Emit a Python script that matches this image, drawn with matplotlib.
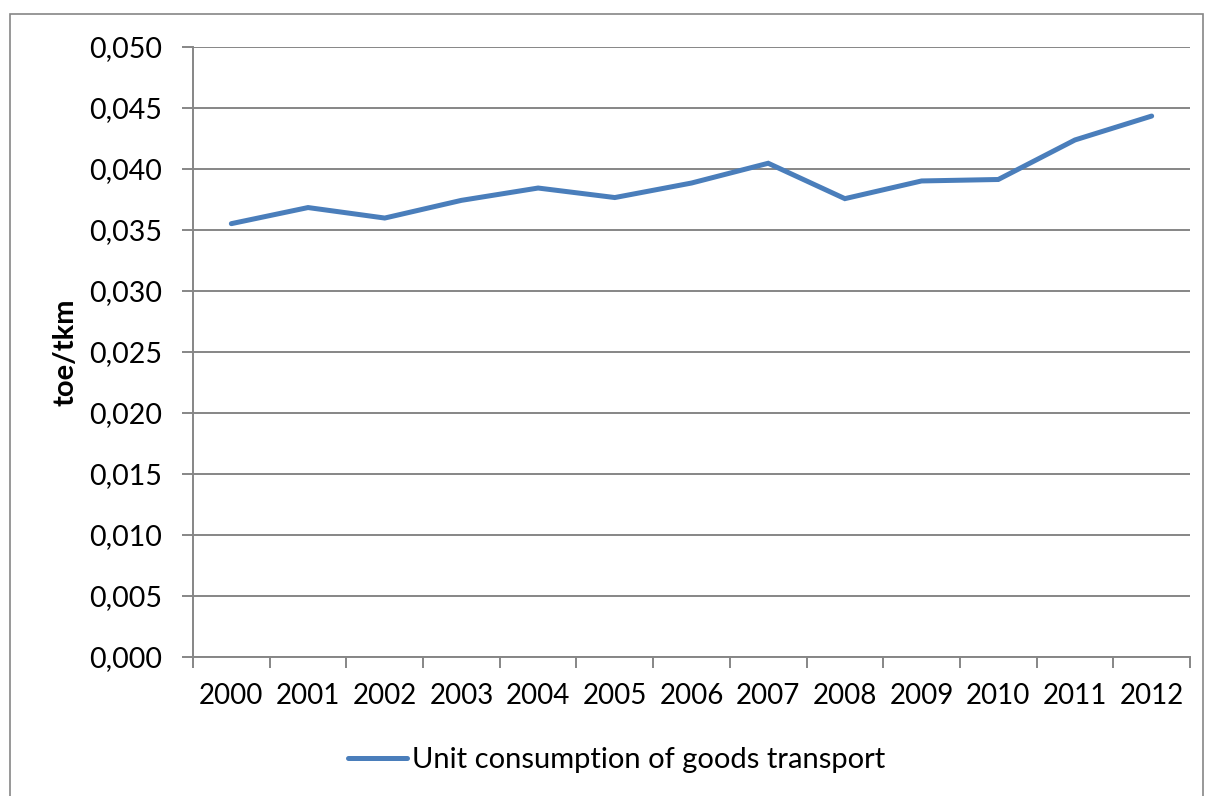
import matplotlib
matplotlib.use("Agg")
import matplotlib.pyplot as plt
from matplotlib.patches import Rectangle
from matplotlib.ticker import FixedLocator, FuncFormatter
import numpy as np

years = ["2000", "2001", "2002", "2003", "2004", "2005", "2006",
         "2007", "2008", "2009", "2010", "2011", "2012"]
unit_consumption = [0.03552, 0.03684, 0.03598, 0.03743, 0.03844, 0.03766,
                    0.03885, 0.04047, 0.03757, 0.03902, 0.03914, 0.04238,
                    0.04434]
series_label = "Unit consumption of goods transport"
y_label = "toe/tkm"

plt.rcParams['font.family'] = ['Lato', 'DejaVu Sans']

fig = plt.figure(figsize=(12.06, 7.96), dpi=100)
fig.patch.set_facecolor("white")

# chart frame
fig.patches.append(Rectangle((10 / 1206, -0.05), 1193 / 1206, 1 - 14 / 796 + 0.05,
                             transform=fig.transFigure, fill=False,
                             edgecolor="#868686", linewidth=1.2))

ax = fig.add_axes([193 / 1206, 1 - 657 / 796, (1190 - 193) / 1206, (657 - 47) / 796])

grid_col = "#868686"
x = np.arange(len(years))
line, = ax.plot(x, unit_consumption, color="#4A7EBB", linewidth=3.6,
                solid_capstyle="round", solid_joinstyle="miter",
                label=series_label, zorder=3)

ax.set_xlim(-0.5, len(years) - 0.5)
ax.set_ylim(0, 0.050)
ax.set_yticks(np.arange(0, 0.0501, 0.005))
ax.yaxis.set_major_formatter(FuncFormatter(lambda v, p: f"{v:.3f}".replace(".", ",")))
ax.yaxis.grid(True, color=grid_col, linewidth=1.4)
ax.set_axisbelow(True)

ax.set_xticks(x)
ax.set_xticklabels(years)
ax.xaxis.set_minor_locator(FixedLocator(np.arange(-0.5, len(years), 1.0)))
ax.tick_params(axis="x", which="major", length=0, pad=19, labelsize=20)
ax.tick_params(axis="x", which="minor", length=8, width=1.4, color=grid_col)
ax.tick_params(axis="y", length=8, width=1.4, color=grid_col, pad=14, labelsize=20.5)

for s in ("top", "right"):
    ax.spines[s].set_visible(False)
for s in ("left", "bottom"):
    ax.spines[s].set_color(grid_col)
    ax.spines[s].set_linewidth(1.4)

fig.text(65 / 1206, 1 - 352 / 796, y_label, rotation=90, ha="center", va="center",
         fontsize=21, fontweight="bold")

leg = fig.legend(handles=[line], loc="center", bbox_to_anchor=(617 / 1206, 1 - 760 / 796),
                 frameon=False, fontsize=21, handlelength=2.0, handletextpad=0.2)

fig.savefig("out.png", dpi=100, facecolor="white")
